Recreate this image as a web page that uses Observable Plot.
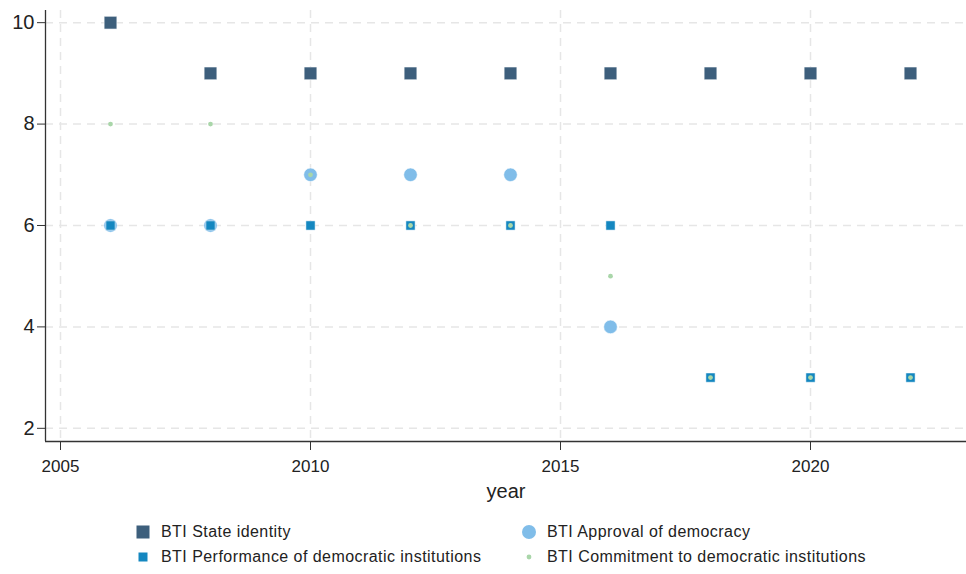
<!DOCTYPE html>
<html>
<head>
<meta charset="utf-8">
<script src="https://cdn.jsdelivr.net/npm/d3@7"></script>
<script src="https://cdn.jsdelivr.net/npm/@observablehq/plot@0.6"></script>
<style>
  body { margin: 0; background: #fff; font-family: "Liberation Sans", Arial, sans-serif; }
  #chart svg { display: block; }
  #legend { position: relative; width: 966px; height: 64px; font-size: 16px; letter-spacing: 0.45px; color: #222; }
  .item { position: absolute; display: flex; align-items: center; height: 18px; }
  .item svg { margin-right: 10px; }
</style>
</head>
<body>
<div id="chart"></div>
<div id="legend"></div>
<script>
const years = [2006, 2008, 2010, 2012, 2014, 2016, 2018, 2020, 2022];
const stateIdentity = [10, 9, 9, 9, 9, 9, 9, 9, 9];
const approval = [6, 6, 7, 7, 7, 4, null, null, null];
const performance = [6, 6, 6, 6, 6, 6, 3, 3, 3];
const commitment = [8, 8, 7, 6, 6, 5, 3, 3, 3];
const seriesNames = [
  "BTI State identity",
  "BTI Approval of democracy",
  "BTI Performance of democratic institutions",
  "BTI Commitment to democratic institutions"
];
const colors = ["#3d5f7c", "#80bde9", "#1487c0", "#a9d6a9"];
const xTicks = [2005, 2010, 2015, 2020];
const yTicks = [2, 4, 6, 8, 10];

const toRows = (vals) => years.map((y, i) => ({year: y, value: vals[i]})).filter(d => d.value != null);

const chart = Plot.plot({
  width: 966,
  height: 510,
  marginLeft: 45,
  marginRight: 0,
  marginTop: 10,
  marginBottom: 69,
  style: {fontFamily: "Liberation Sans, Arial, sans-serif", background: "#fff", fontSize: "17px"},
  x: {domain: [2004.7, 2023.12], label: null},
  y: {domain: [1.74, 10.24], label: null},
  marks: [
    Plot.ruleX(xTicks, {stroke: "#e6e6e6", strokeWidth: 1.5, strokeDasharray: "8,6"}),
    Plot.ruleY(yTicks, {stroke: "#e6e6e6", strokeWidth: 1.5, strokeDasharray: "8,6"}),
    Plot.axisX(xTicks, {tickSize: 9, tickPadding: 9, fontSize: 17, stroke: "#333", fill: "#222", label: null, tickFormat: d => String(d)}),
    Plot.axisY(yTicks, {tickSize: 8, tickPadding: 3, fontSize: 20, stroke: "#333", fill: "#222", label: null, tickFormat: d => String(d)}),
    Plot.text(["year"], {frameAnchor: "bottom", dy: 56, fontSize: 20, fill: "#222"}),
    Plot.ruleX([2004.7], {stroke: "#333", strokeWidth: 1.3}),
    Plot.ruleY([1.74], {stroke: "#333", strokeWidth: 1.3}),
    Plot.dot(toRows(stateIdentity), {x: "year", y: "value", symbol: "square", r: 7.2, fill: colors[0], stroke: "#fff", strokeWidth: 0.6}),
    Plot.dot(toRows(approval), {x: "year", y: "value", symbol: "circle", r: 6.8, fill: colors[1], stroke: "#fff", strokeWidth: 0.6}),
    Plot.dot(toRows(performance), {x: "year", y: "value", symbol: "square", r: 5.2, fill: colors[2], stroke: "#fff", strokeWidth: 0.5}),
    Plot.dot(toRows(commitment), {x: "year", y: "value", symbol: "circle", r: 2.4, fill: colors[3]})
  ]
});
document.getElementById("chart").appendChild(chart);

// Legend
const legend = document.getElementById("legend");
const pos = [[135, 22], [521, 22], [135, 47], [521, 47]];
const swatch = [
  `<svg width="16" height="16"><rect x="1.5" y="1.5" width="13" height="13" fill="${colors[0]}"/></svg>`,
  `<svg width="16" height="16"><circle cx="8" cy="8" r="7" fill="${colors[1]}"/></svg>`,
  `<svg width="16" height="16"><rect x="3.5" y="3.5" width="9" height="9" fill="${colors[2]}"/></svg>`,
  `<svg width="16" height="16"><circle cx="8" cy="8" r="2.4" fill="${colors[3]}"/></svg>`
];
seriesNames.forEach((name, i) => {
  const div = document.createElement("div");
  div.className = "item";
  div.style.left = pos[i][0] + "px";
  div.style.top = (pos[i][1] - 9) + "px";
  div.innerHTML = swatch[i] + `<span>${name}</span>`;
  legend.appendChild(div);
});
</script>
</body>
</html>
